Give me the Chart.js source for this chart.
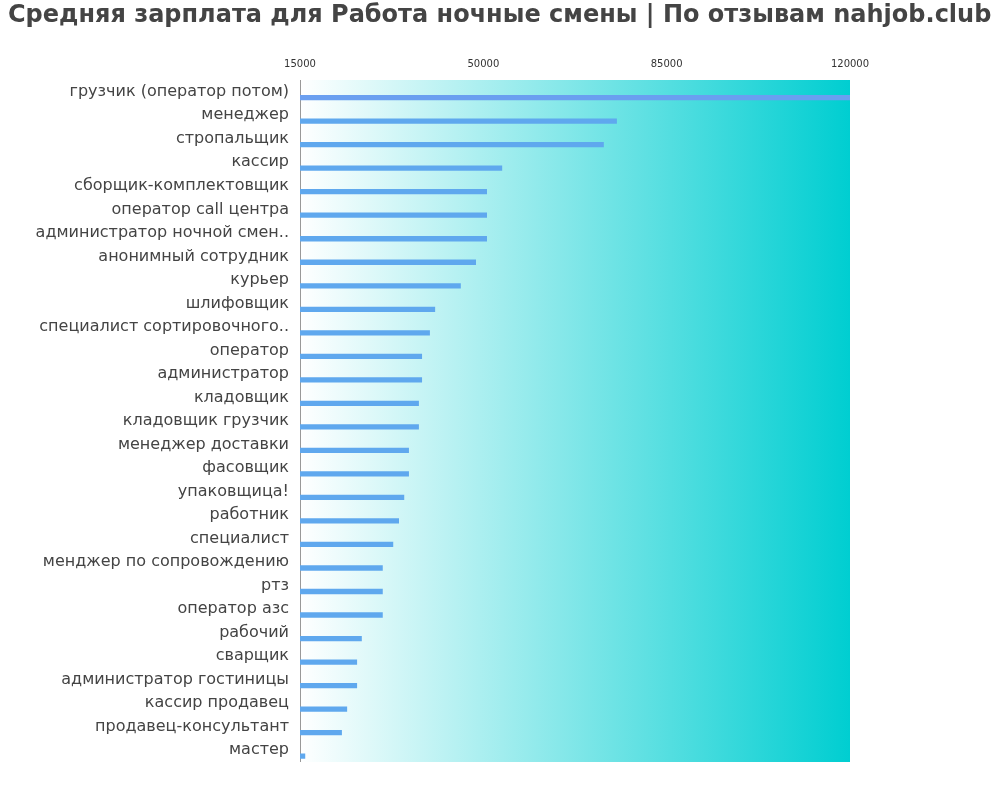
<!DOCTYPE html>
<html><head><meta charset="utf-8">
<script src="https://cdn.jsdelivr.net/npm/chart.js@4"></script>
<style>html,body{margin:0;padding:0;background:#fff}#w{width:1000px;height:800px}</style>
</head><body><div id="w"><canvas id="c"></canvas></div>
<script>
const categories = ["грузчик (оператор потом)","менеджер","стропальщик","кассир","сборщик-комплектовщик","оператор call центра","администратор ночной смен..","анонимный сотрудник","курьер","шлифовщик","специалист сортировочного..","оператор","администратор","кладовщик","кладовщик грузчик","менеджер доставки","фасовщик","упаковщица!","работник","специалист","менджер по сопровождению","ртз","оператор азс","рабочий","сварщик","администратор гостиницы","кассир продавец","продавец-консультант","мастер"];
const salaries = [120000,75500,73000,53600,50700,50700,50700,48600,45700,40800,39800,38300,38300,37700,37700,35800,35800,34900,33900,32800,30800,30800,30800,26800,25900,25900,24000,23000,16000];
const tickValues = [15000,50000,85000,120000];
const title = "Средняя зарплата для Работа ночные смены | По отзывам nahjob.club";
const FF = "'DejaVu Sans', sans-serif";
const bg = {id:'bg',
 beforeDatasetsDraw(ch){const a=ch.chartArea,x=ch.ctx;const g=x.createLinearGradient(a.left,0,a.right,0);g.addColorStop(0,'#ffffff');g.addColorStop(1,'#00CED1');x.save();x.fillStyle=g;x.fillRect(a.left,a.top,a.right-a.left,a.bottom-a.top);x.strokeStyle='#999';x.lineWidth=1;x.beginPath();x.moveTo(a.left+0.5,a.top);x.lineTo(a.left+0.5,a.bottom);x.stroke();x.restore();},
 afterDraw(ch){const x=ch.ctx;x.save();x.fillStyle='#444';x.font="bold 24px "+FF;x.textBaseline='middle';x.textAlign='left';x.fillText(title,8,16);x.restore();}};
new Chart(document.getElementById('c'),{
 type:'bar',
 data:{labels:categories,datasets:[
  {data:categories.map(()=>null),backgroundColor:'transparent'},
  {data:salaries,backgroundColor:salaries.map((v,i)=>i===0?'#6a9ff0':'#5fa8ee')}]},
 options:{indexAxis:'y',responsive:true,maintainAspectRatio:false,animation:false,
  datasets:{bar:{categoryPercentage:1,barPercentage:0.45}},
  layout:{padding:{right:150,bottom:38,left:8,top:56}},
  plugins:{legend:{display:false},tooltip:{enabled:false},title:{display:false}},
  scales:{
   x:{position:'top',min:15000,max:120000,grid:{display:false},border:{display:false},
      afterBuildTicks(ax){ax.ticks=tickValues.map(v=>({value:v}));},
      ticks:{color:'#333',font:{family:FF,size:10},maxRotation:0,padding:2,callback:v=>String(v)}},
   y:{grid:{display:false},border:{display:false},afterFit(ax){ax.width=292;},
      ticks:{color:'#444',font:{family:FF,size:16},padding:3,autoSkip:false}}
  }},
 plugins:[bg]});
</script></body></html>
